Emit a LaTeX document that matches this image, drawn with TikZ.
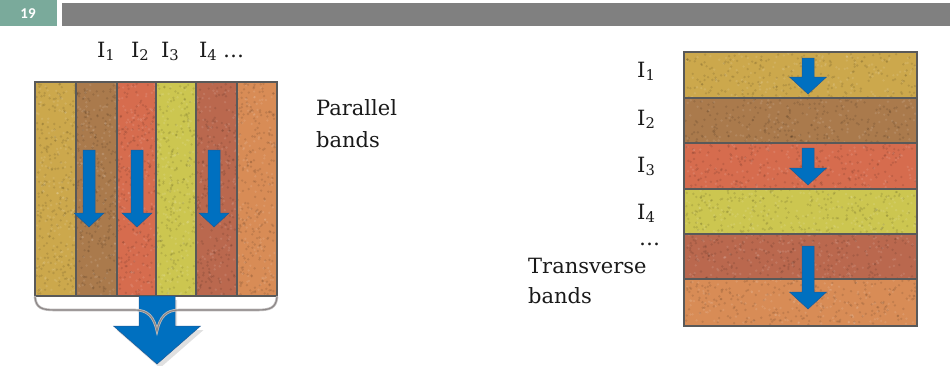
\documentclass[tikz,border=0pt]{standalone}
\usepackage{fontspec}
\setmainfont{DejaVu Serif}
\newfontfamily\hdrfont{Carlito}
\definecolor{hdrteal}{RGB}{122,170,155}
\definecolor{hdrgray}{RGB}{128,128,128}
\definecolor{bOchre}{RGB}{204,168,76}
\definecolor{bBrown}{RGB}{170,122,76}
\definecolor{bRed}{RGB}{214,108,78}
\definecolor{bLime}{RGB}{204,198,80}
\definecolor{bRust}{RGB}{186,104,78}
\definecolor{bOrange}{RGB}{216,140,86}
\definecolor{arrBlue}{RGB}{0,112,192}
\definecolor{arrEdge}{RGB}{30,90,150}
\definecolor{bordGray}{RGB}{89,89,89}
\definecolor{braceGray}{RGB}{140,135,135}
\newcommand\bandarrow[6]{\filldraw[arrowsty] (#1-#5,#2) -- (#1+#5,#2) -- (#1+#5,#3) -- (#1+#6,#3) -- (#1,#4) -- (#1-#6,#3) -- (#1-#5,#3) -- cycle;}
\newcommand\speckle[4]{%
  \foreach \k in {1,...,1400}{%
    \pgfmathsetmacro\rx{#1+1.5+(#3-#1-3)*rnd}%
    \pgfmathsetmacro\ry{#2+1.5+(#4-#2-3)*rnd}%
    \fill[black,opacity=0.10] (\rx,\ry) circle (1.3);}%
  \foreach \k in {1,...,900}{%
    \pgfmathsetmacro\rx{#1+1.5+(#3-#1-3)*rnd}%
    \pgfmathsetmacro\ry{#2+1.5+(#4-#2-3)*rnd}%
    \fill[white,opacity=0.10] (\rx,\ry) circle (1.3);}}
\tikzset{
  arrowsty/.style={fill=arrBlue, draw=arrEdge, line width=0.5pt, line join=miter},
  bord/.style={draw=bordGray, line width=1.6pt},
  lbl/.style={anchor=base west, inner sep=0pt, text=black!90, font=\fontsize{21}{24}\selectfont},
}
\begin{document}
\begin{tikzpicture}[x=1pt,y=-1pt]
\useasboundingbox (0,0) rectangle (950,365);
\clip (0,0) rectangle (950,365);
\pgfmathsetseed{11}
% header
\fill[hdrteal] (0,0) rectangle (57,26);
\fill[hdrgray] (62,3) rectangle (950,26);
\node[font=\hdrfont\bfseries\fontsize{15}{15}\selectfont, text=white] (pg) at (28,13.5) {19};
% left: parallel bands
\foreach \xa/\xb/\c in {35/76/bOchre,76/117/bBrown,117/156/bRed,156/196/bLime,196/237/bRust,237/277/bOrange}
  \fill[\c] (\xa,82) rectangle (\xb,296);
\speckle{35}{82}{277}{296}
\foreach \xx in {76,117,156,196,237}
  \draw[bord] (\xx,82) -- (\xx,296);
\draw[bord] (35,82) rectangle (277,296);
\bandarrow{89}{150}{213}{227}{6}{15}
\bandarrow{137}{150}{213}{227}{6}{15}
\bandarrow{214}{150}{213}{227}{6}{15}
% big arrow
\fill[black,opacity=0.12] (160,300) -- (160+17,300) -- (160+17,330) -- (160+43.5,330) -- (160,368) -- (160-43.5,330) -- (160-17,330) -- cycle;
\bandarrow{157}{296}{326}{364}{18}{43.5}
% brace
\draw[braceGray!55, line width=2.6pt, line cap=round]
  (35,297) .. controls (36,308) and (42,310) .. (55,310) -- (135,310)
  .. controls (148,310) and (154,317) .. (157,331)
  .. controls (160,317) and (166,310) .. (179,310) -- (257,310)
  .. controls (270,310) and (276,308) .. (277,297);
\draw[braceGray, line width=1.1pt, line cap=round]
  (35,297) .. controls (36,308) and (42,310) .. (55,310) -- (135,310)
  .. controls (148,310) and (154,317) .. (157,331)
  .. controls (160,317) and (166,310) .. (179,310) -- (257,310)
  .. controls (270,310) and (276,308) .. (277,297);
% top labels
\node[lbl] (i1) at (97,57) {I\textsubscript{1}};
\node[lbl] (i2) at (131,57) {I\textsubscript{2}};
\node[lbl] (i3) at (161,57) {I\textsubscript{3}};
\node[lbl] (i4) at (199,57) {I\textsubscript{4}};
\node[lbl] (idots) at (223,57) {\dots};
\node[lbl] (par1) at (316,115) {Parallel};
\node[lbl] (par2) at (316,147) {bands};
% right: transverse bands
\foreach \ya/\yb/\c in {52/98/bOchre,98/143/bBrown,143/189/bRed,189/234/bLime,234/279/bRust,279/326/bOrange}
  \fill[\c] (684,\ya) rectangle (917,\yb);
\speckle{684}{52}{917}{326}
\foreach \yy in {98,143,189,234,279}
  \draw[bord] (684,\yy) -- (917,\yy);
\draw[bord] (684,52) rectangle (917,326);
\bandarrow{808}{58}{77}{94}{6}{18.5}
\bandarrow{808}{148}{168}{185}{6}{18.5}
\bandarrow{808}{246}{292}{309}{6}{18.5}
\node[lbl] (j1) at (637,77) {I\textsubscript{1}};
\node[lbl] (j2) at (637,125) {I\textsubscript{2}};
\node[lbl] (j3) at (637,172) {I\textsubscript{3}};
\node[lbl] (j4) at (637,219) {I\textsubscript{4}};
\node[lbl] (jdots) at (639,245) {\dots};
\node[lbl] (tr1) at (528,273) {Transverse};
\node[lbl] (tr2) at (528,303) {bands};
\end{tikzpicture}
\end{document}
